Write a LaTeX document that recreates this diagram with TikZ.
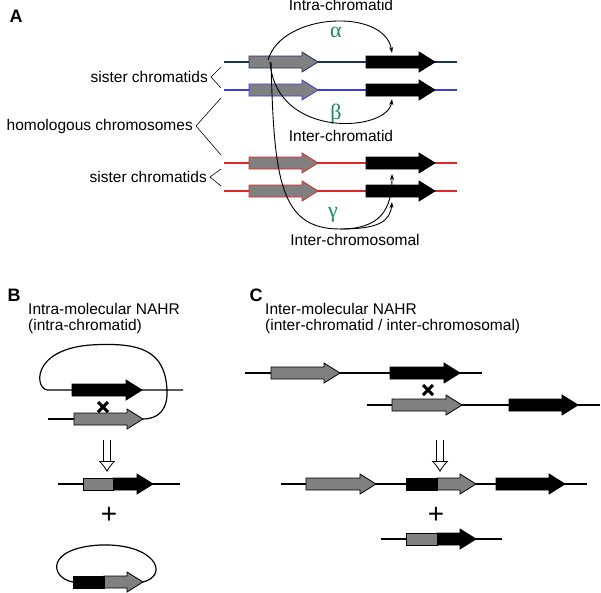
\documentclass[tikz,border=0pt]{standalone}
\usepackage{fontspec}
\setmainfont{Liberation Sans}
\newfontfamily\grk{Liberation Serif}
\usetikzlibrary{arrows.meta}
\definecolor{navy}{RGB}{30,50,100}
\definecolor{gblue}{RGB}{60,60,230}
\definecolor{gred}{RGB}{220,40,40}
\definecolor{ggreen}{RGB}{20,140,90}
\definecolor{ggray}{RGB}{128,128,128}
% #1 x start, #2 x end, #3 y, #4 fill, #5 draw
\newcommand\genearr[5]{\filldraw[fill=#4,draw=#5,line width=0.8pt]
  (#1,#3-6) -- ({#2-16},#3-6) -- ({#2-16},#3-10) -- (#2,#3) -- ({#2-16},#3+10) -- ({#2-16},#3+6) -- (#1,#3+6) -- cycle;}
\newcommand\genebox[4]{\filldraw[fill=#4,draw=black,line width=0.8pt] (#1,#3-6) rectangle (#2,#3+6);}
\newcommand\crossmark[2]{\draw[line width=3pt] (#1-5,#2-5) -- (#1+5,#2+5) (#1-5,#2+5) -- (#1+5,#2-5);}
\begin{document}
\begin{tikzpicture}[x=1pt,y=-1pt,
  txt/.style={font=\fontsize{15.5}{18}\selectfont,inner sep=0pt},
  lab/.style={font=\fontsize{18}{20}\selectfont\bfseries,inner sep=0pt},
  gk/.style={text=ggreen,font=\fontsize{22}{22}\selectfont\grk,inner sep=0pt},
  chrom/.style={line width=1.3pt},
  rec/.style={line width=0.9pt,-{Stealth[length=6pt,width=4pt]}},
  dna/.style={line width=1.2pt},
  bigarr/.style={double,double distance=6pt,line width=0.8pt,-{Latex[open,length=11pt,width=17pt]}}]
\useasboundingbox (0,0) rectangle (601,592);
% ---------- Panel A ----------
\node[lab] (A) at (16,16) {A};
\foreach \yy/\cc in {62/navy,90/gblue,163/gred,191/gred}{
  \draw[chrom,\cc] (224,\yy) -- (457,\yy);
  \genearr{249}{318}{\yy}{ggray}{\cc}
  \genearr{366}{435}{\yy}{black}{black}
}
\node[txt,anchor=east] (s1) at (208,77) {sister chromatids};
\node[txt,anchor=east] (hc) at (193,126) {homologous chromosomes};
\node[txt,anchor=east] (s2) at (207,177) {sister chromatids};
\draw[line width=0.6pt] (221,67) -- (211,77) -- (221,88);
\draw[line width=0.6pt] (221,98) -- (196,126) -- (221,155);
\draw[line width=0.6pt] (221,169) -- (210,177) -- (221,186);
\node[txt] (ia) at (341,5) {Intra-chromatid};
\node[txt] (ie) at (341,136) {Inter-chromatid};
\node[txt] (is) at (355,240) {Inter-chromosomal};
\node[gk] (al) at (336,32) {α};
\node[gk] (be) at (336,114) {β};
\node[gk] (ga) at (333,215) {γ};
\draw[rec] (268,60) .. controls (282,12) and (385,8) .. (392,53);
\draw[rec] (270,62) .. controls (276,140) and (388,132) .. (392,99);
\draw[rec] (271,62) .. controls (274,180) and (280,229) .. (340,229) .. controls (380,229) and (392,210) .. (392,174);
\draw[rec] (340,229) .. controls (378,229) and (390,222) .. (392,202);
% ---------- Panel B ----------
\node[lab] (B) at (14,295) {B};
\node[txt,anchor=west] (bt1) at (28,309) {Intra-molecular NAHR};
\node[txt,anchor=west] (bt2) at (28,326) {(intra-chromatid)};
\draw[dna] (183,390) -- (48,390) .. controls (35,390) and (30,350) .. (90,345)
  .. controls (140,342) and (165,350) .. (167,390) .. controls (168,410) and (158,419) .. (143,419);
\genearr{72}{142}{390}{black}{black}
\draw[dna] (48,419) -- (74,419);
\genearr{74}{143}{419}{ggray}{black}
\crossmark{103}{407}
\draw[bigarr] (107,440) -- (107,472);
\draw[dna] (58,484) -- (180,484);
\genearr{113}{153}{484}{black}{black}
\genebox{83}{113}{484}{ggray}
\node[font=\fontsize{28}{28}\selectfont,inner sep=0pt] (pb) at (109,515) {+};
\draw[dna] (73,582) .. controls (50,578) and (45,548) .. (100,545)
  .. controls (155,543) and (170,575) .. (143,582);
\genearr{104}{143}{582}{ggray}{black}
\genebox{73}{104}{582}{black}
% ---------- Panel C ----------
\node[lab] (C) at (256,295) {C};
\node[txt,anchor=west] (ct1) at (265,309) {Inter-molecular NAHR};
\node[txt,anchor=west] (ct2) at (265,326) {(inter-chromatid / inter-chromosomal)};
\draw[dna] (245,373) -- (482,373);
\genearr{271}{340}{373}{ggray}{black}
\genearr{390}{460}{373}{black}{black}
\crossmark{428}{390}
\draw[dna] (367,405) -- (600,405);
\genearr{392}{462}{405}{ggray}{black}
\genearr{509}{578}{405}{black}{black}
\draw[bigarr] (440,440) -- (440,472);
\draw[dna] (281,484) -- (587,484);
\genearr{306}{376}{484}{ggray}{black}
\genearr{437}{476}{484}{ggray}{black}
\genebox{406}{437}{484}{black}
\genearr{496}{565}{484}{black}{black}
\node[font=\fontsize{28}{28}\selectfont,inner sep=0pt] (pc) at (436,515) {+};
\draw[dna] (381,539) -- (502,539);
\genearr{437}{476}{539}{black}{black}
\genebox{406}{437}{539}{ggray}
\end{tikzpicture}
\end{document}
